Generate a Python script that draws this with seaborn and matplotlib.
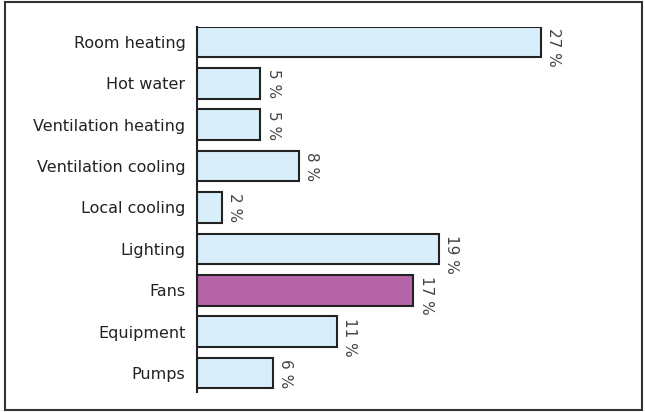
import seaborn as sns
import matplotlib.pyplot as plt
import matplotlib.patches as patches
import pandas as pd

categories = ["Room heating", "Hot water", "Ventilation heating", "Ventilation cooling",
              "Local cooling", "Lighting", "Fans", "Equipment", "Pumps"]
values = [27, 5, 5, 8, 2, 19, 17, 11, 6]
highlight = "Fans"

df = pd.DataFrame({"category": categories, "share": values})

sns.set_style("white")
plt.rcParams['font.family'] = ['DejaVu Sans']

fig = plt.figure(figsize=(6.45, 4.12), dpi=100)
ax = fig.add_axes([0.305, 0.0485, 0.593, 0.886])

colors = ["#b565a7" if c == highlight else "#d8effb" for c in categories]
sns.barplot(data=df, x="share", y="category", hue="category", palette=colors,
            saturation=1, legend=False, width=0.74, edgecolor="#222222",
            linewidth=1.5, ax=ax)

for i, v in enumerate(values):
    ax.text(v + 0.4, i - 0.34, f"{v} %", rotation=-90, va="top", ha="left",
            fontsize=11, color="#444444")

ax.set_xlim(0, 30)
ax.set_ylim(8.46, -0.36)
ax.set_xlabel("")
ax.set_ylabel("")
ax.set_xticks([])
for s in ["top", "right", "bottom"]:
    ax.spines[s].set_visible(False)
ax.spines["left"].set_color("#222222")
ax.spines["left"].set_linewidth(1.5)
ax.tick_params(axis="y", length=0, pad=8, labelsize=11.5, labelcolor="#222222")

# outer frame
fig.patches.append(patches.Rectangle((0.007, 0.005), 0.988, 0.99, transform=fig.transFigure,
                                     fill=False, edgecolor="#333333", linewidth=1.5))

fig.savefig("out.png", dpi=100)
